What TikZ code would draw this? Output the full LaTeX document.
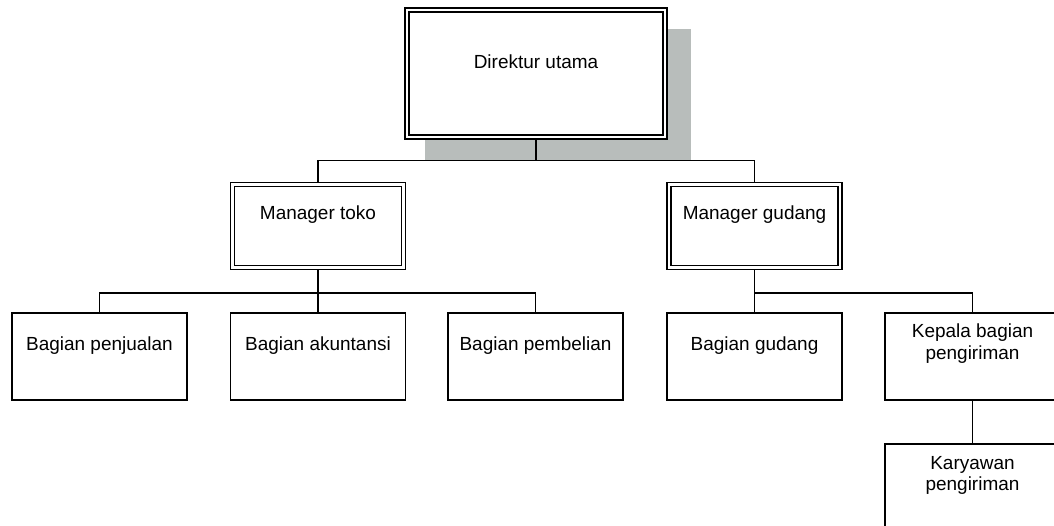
\documentclass[tikz,border=0pt]{standalone}
\usepackage{fontspec}
\setmainfont{Liberation Sans}
\usetikzlibrary{positioning, calc, backgrounds}
\definecolor{ORGShadow}{RGB}{184,189,187}

\begin{document}
\begin{tikzpicture}[x=0.02cm, y=-0.02cm,
        box/.style={draw, line width=0.75pt, fill=white, inner sep=0pt, minimum width=3.5cm, minimum height=1.74cm},
        dbox/.style={draw, double, double distance=1.5pt, line width=0.75pt, fill=white, inner sep=0pt},
        txt/.style={font=\fontsize{10.8}{12.4}\selectfont, align=center, inner sep=0pt},
        conn/.style={line width=0.75pt}]
        \useasboundingbox (0,0) rectangle (1054,526);

        % Top level
        \node[dbox, minimum width=5.16cm, minimum height=2.54cm] (dir) at (536,73.5) {};
        \node[txt] (dir-t) at ($(dir.north)+(0,52)$) {Direktur utama};

        % Managers
        \node[dbox, minimum width=3.43cm, minimum height=1.67cm] (mtoko) at (318,226) {};
        \node[txt] (mtoko-t) at ($(mtoko.north)+(0,31)$) {Manager toko};
        \node[dbox, minimum width=3.42cm, minimum height=1.67cm] (mgudang) at (754.5,226) {};
        \node[txt] (mgudang-t) at ($(mgudang.north)+(0,31)$) {Manager gudang};

        % Bagian
        \foreach \x/\name/\label in {99.5/penj/Bagian penjualan, 318/akun/Bagian akuntansi,
                535.5/beli/Bagian pembelian, 754.5/gud/Bagian gudang} {
            \node[box] (\name) at (\x,356.5) {};
            \node[txt] (\name-t) at ($(\name.north)+(0,33)$) {\label};
        }
        \node[box] (kepala) at (972.5,356.5) {};
        \node[txt] (kepala-t) at ($(kepala.north)+(0,31.5)$) {Kepala bagian\\pengiriman};
        \node[box] (karyawan) at (972.5,487.5) {};
        \node[txt] (karyawan-t) at ($(karyawan.north)+(0,32)$) {Karyawan\\pengiriman};

        % Shadow and lines
        \begin{scope}[on background layer]
            \fill[ORGShadow] ($(dir.north west)+(19,20)$) rectangle ($(dir.south east)+(25,23)$);
            \draw[conn] (dir.south) -- ++(0,23) -| (mtoko.north);
            \draw[conn] (dir.south) -- ++(0,23) -| (mgudang.north);
            \foreach \n in {penj, akun, beli}
                \draw[conn] (mtoko.south) -- ++(0,24.5) -| (\n.north);
            \foreach \n in {gud, kepala}
                \draw[conn] (mgudang.south) -- ++(0,24.5) -| (\n.north);
            \draw[conn] (kepala) -- (karyawan);
        \end{scope}
    \end{tikzpicture}
\end{document}
